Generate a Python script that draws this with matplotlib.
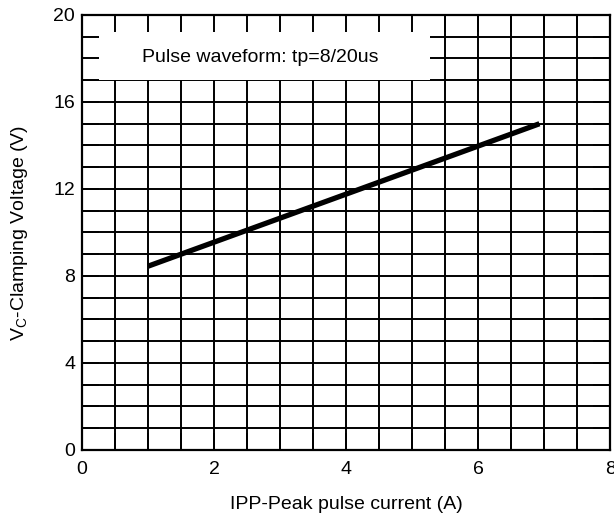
import numpy as np
import matplotlib.pyplot as plt
from matplotlib.ticker import MultipleLocator
from matplotlib.patches import Rectangle

plt.rcParams['font.family'] = ['Liberation Sans', 'DejaVu Sans']

# data
current = [1.0, 6.93]        # IPP (A)
clamp_v = [8.45, 15.0]       # Vc (V)
note = "Pulse waveform: tp=8/20us"
x_label = "IPP-Peak pulse current (A)"
y_label = "V$_\\mathregular{C}$-Clamping Voltage (V)"

fs = 14

fig = plt.figure(figsize=(6.14, 5.26), dpi=100)
ax = fig.add_axes([0.1336, 0.1445, 0.86, 0.827])
ax.set_xlim(0, 8)
ax.set_ylim(0, 20)

# grid every 0.5 A / 1 V
ax.vlines(np.arange(0.5, 8, 0.5), 0, 20, color="black", lw=1.4, zorder=1)
ax.hlines(np.arange(1, 20, 1), 0, 8, color="black", lw=1.4, zorder=1)

# white label box covering the grid at the top
ax.add_patch(Rectangle((0, 17), 5.27, 3, facecolor="white", edgecolor="none", zorder=2))
ax.text(2.7, 18.05, note, ha="center", va="center", fontsize=fs, zorder=4)

ax.plot(current, clamp_v, color="black", lw=3.8, solid_capstyle="butt", zorder=5)

ax.xaxis.set_major_locator(MultipleLocator(2))
ax.xaxis.set_minor_locator(MultipleLocator(0.5))
ax.yaxis.set_major_locator(MultipleLocator(4))
ax.yaxis.set_minor_locator(MultipleLocator(1))
ax.set_axisbelow(False)
ax.tick_params(which="both", direction="in", length=12.5, width=1.4,
               top=True, right=True, labelsize=fs, pad=5)
ax.tick_params(axis="x", which="both", pad=8)

for s in ax.spines.values():
    s.set_linewidth(1.6)
    s.set_zorder(6)

ax.set_xlabel(x_label, fontsize=fs, labelpad=13)
ax.set_ylabel(y_label, fontsize=fs, labelpad=17)

fig.savefig("out.png", dpi=100)
